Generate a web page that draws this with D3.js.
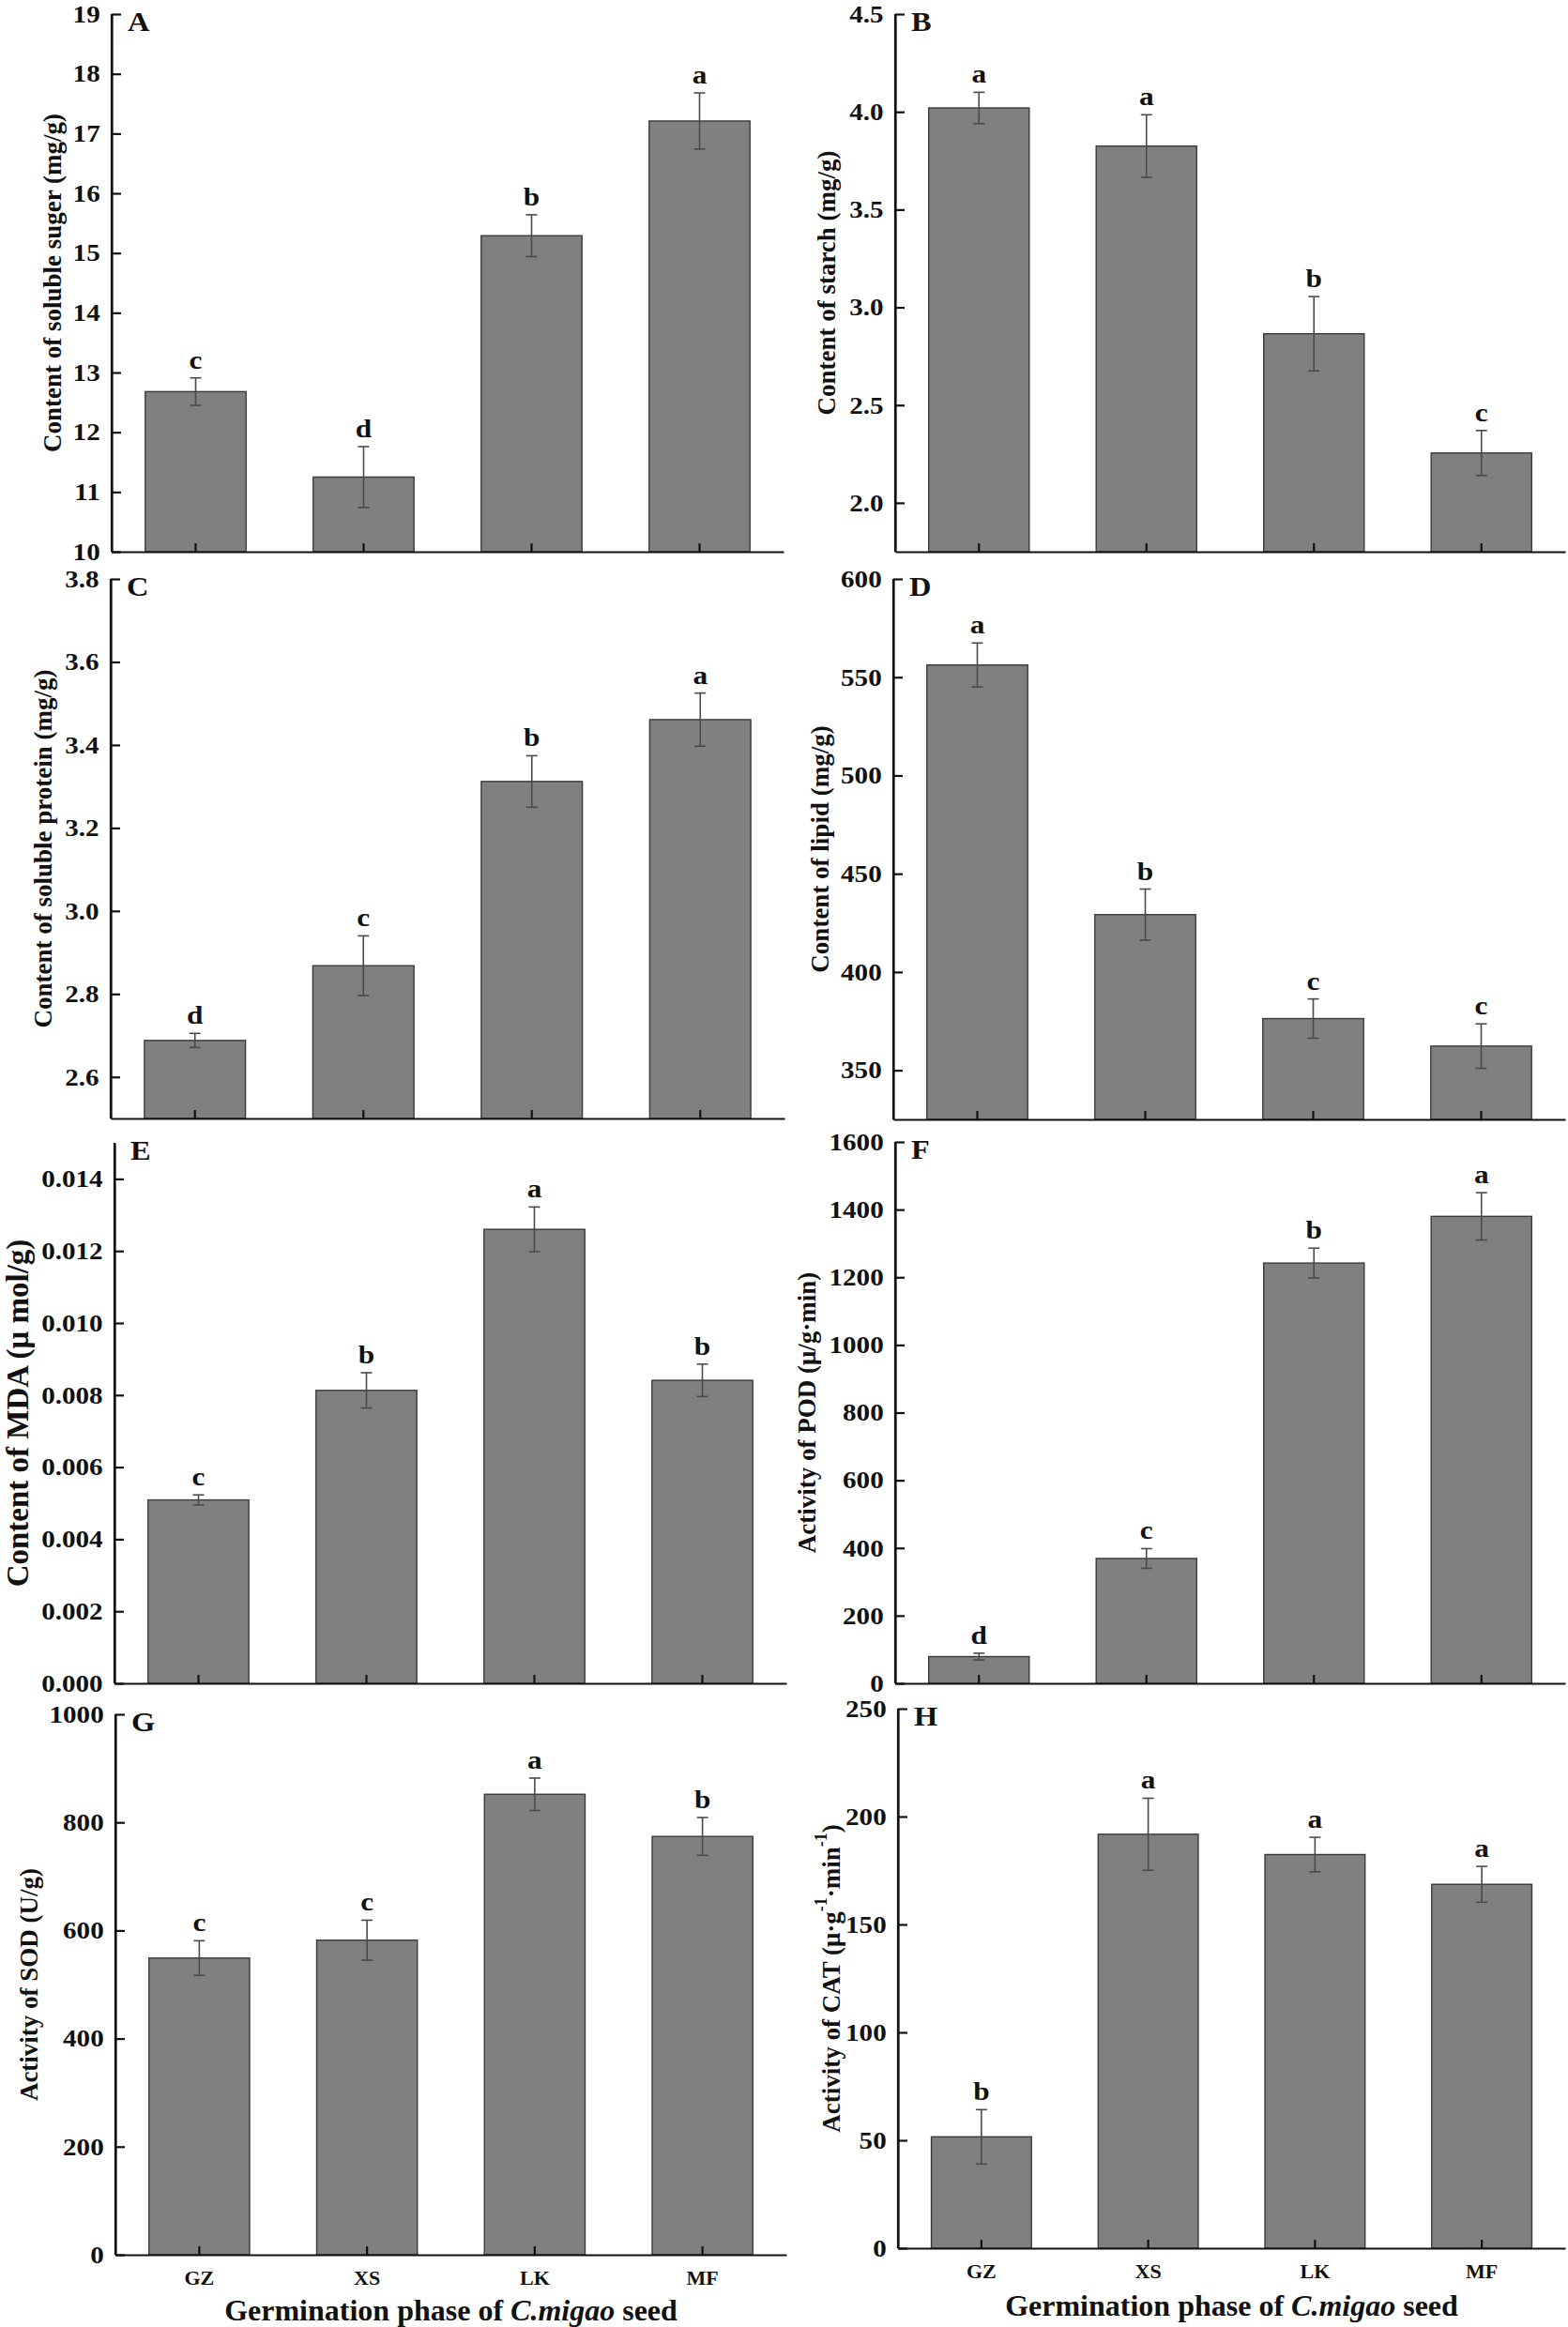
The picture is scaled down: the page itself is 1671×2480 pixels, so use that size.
<!DOCTYPE html>
<html><head><meta charset="utf-8">
<script src="https://cdn.jsdelivr.net/npm/d3@7"></script>
<style>
body{margin:0;background:#fff}
svg{display:block}
text{font-family:"Liberation Serif","Times New Roman",serif;font-weight:bold;fill:#111}
</style>
</head><body>
<svg id="chart" width="1671" height="2480"></svg>
<script>
// ---------- data ----------
const categories = ["GZ", "XS", "LK", "MF"];

const sugarMean = [12.68, 11.25, 15.29, 17.21];
const sugarErr  = [0.23, 0.51, 0.35, 0.47];
const sugarSig  = ["c", "d", "b", "a"];
const sugarTicks = [10, 11, 12, 13, 14, 15, 16, 17, 18, 19];

const starchMean = [4.02, 3.825, 2.865, 2.255];
const starchErr  = [0.08, 0.16, 0.19, 0.115];
const starchSig  = ["a", "a", "b", "c"];
const starchTicks = [2.0, 2.5, 3.0, 3.5, 4.0, 4.5];

const proteinMean = [2.688, 2.868, 3.312, 3.461];
const proteinErr  = [0.017, 0.072, 0.062, 0.064];
const proteinSig  = ["d", "c", "b", "a"];
const proteinTicks = [2.6, 2.8, 3.0, 3.2, 3.4, 3.6, 3.8];

const lipidMean = [556.2, 429.2, 376.3, 362.3];
const lipidErr  = [11.2, 13.0, 10.0, 11.3];
const lipidSig  = ["a", "b", "c", "c"];
const lipidTicks = [350, 400, 450, 500, 550, 600];

const mdaMean = [0.00509, 0.00813, 0.0126, 0.00841];
const mdaErr  = [0.00014, 0.00049, 0.00062, 0.00045];
const mdaSig  = ["c", "b", "a", "b"];
const mdaTicks = [0, 0.002, 0.004, 0.006, 0.008, 0.010, 0.012, 0.014];

const podMean = [79, 369, 1242, 1380];
const podErr  = [10, 29, 44, 70];
const podSig  = ["d", "c", "b", "a"];
const podTicks = [0, 200, 400, 600, 800, 1000, 1200, 1400, 1600];

const sodMean = [549, 582, 852, 774];
const sodErr  = [32, 37, 30, 35];
const sodSig  = ["c", "c", "a", "b"];
const sodTicks = [0, 200, 400, 600, 800, 1000];

const catMean = [51.6, 191.8, 182.4, 168.6];
const catErr  = [12.6, 16.7, 8.0, 8.3];
const catSig  = ["b", "a", "a", "a"];
const catTicks = [0, 50, 100, 150, 200, 250];

const xTitle = ["Germination phase of ", "C.migao", " seed"];

// ---------- layout ----------
const panels = [
  {key:"A", mean:sugarMean, err:sugarErr, sig:sugarSig, domain:[10,19], ticks:sugarTicks, fmt:"d",
   ylabel:[["Content of soluble suger (mg/g)"]], L:119, R:835, T:15, B:588, lx:56, ls:27},
  {key:"B", mean:starchMean, err:starchErr, sig:starchSig, domain:[1.75,4.5], ticks:starchTicks, fmt:".1f",
   ylabel:[["Content of starch (mg/g)"]], L:954, R:1668, T:15, B:588, lx:881, ls:27},
  {key:"C", mean:proteinMean, err:proteinErr, sig:proteinSig, domain:[2.5,3.8], ticks:proteinTicks, fmt:".1f",
   ylabel:[["Content of soluble protein (mg/g)"]], L:118, R:836, T:617, B:1192, lx:46, ls:27},
  {key:"D", mean:lipidMean, err:lipidErr, sig:lipidSig, domain:[325,600], ticks:lipidTicks, fmt:"d",
   ylabel:[["Content of lipid (mg/g)"]], L:952, R:1668, T:617, B:1193, lx:874, ls:27},
  {key:"E", mean:mdaMean, err:mdaErr, sig:mdaSig, domain:[0,0.015], ticks:mdaTicks, fmt:".3f",
   ylabel:[["Content of MDA (\u03bc mol/g)"]], L:122, R:838, T:1218, B:1794, lx:19, ls:33},
  {key:"F", mean:podMean, err:podErr, sig:podSig, domain:[0,1600], ticks:podTicks, fmt:"d",
   ylabel:[["Activity of POD (\u03bc/g\u00b7min)"]], L:954, R:1668, T:1217, B:1794, lx:860, ls:27},
  {key:"G", mean:sodMean, err:sodErr, sig:sodSig, domain:[0,1000], ticks:sodTicks, fmt:"d",
   ylabel:[["Activity of SOD (U/g)"]], L:123, R:838, T:1827, B:2403, lx:31, ls:27, xlab:true, titleY:2473},
  {key:"H", mean:catMean, err:catErr, sig:catSig, domain:[0,250], ticks:catTicks, fmt:"d",
   ylabel:[["Activity of CAT (\u03bc\u00b7g"],["-1","sup"],["\u00b7min"],["-1","sup"],[")"]],
   L:957, R:1668, T:1821, B:2396, lx:886, ls:27, xlab:true, titleY:2468}
];

const SX = 1.12; // horizontal stretch of the original lettering

const svg = d3.select("#chart");
svg.append("rect").attr("width",1671).attr("height",2480).attr("fill","#fff");

panels.forEach(p => {
  const g = svg.append("g");
  const x = d3.scaleBand().domain(categories).range([p.L, p.R]).paddingInner(0.4).paddingOuter(0.2);
  const y = d3.scaleLinear().domain(p.domain).range([p.B, p.T]);
  const rows = categories.map((c, i) => ({c, m:p.mean[i], e:p.err[i], s:p.sig[i]}));

  // bars
  g.selectAll("rect.bar").data(rows).join("rect").attr("class","bar")
    .attr("x", d => x(d.c)).attr("width", x.bandwidth())
    .attr("y", d => y(d.m)).attr("height", d => p.B - y(d.m))
    .attr("fill", "#808080").attr("stroke", "#3a3a3a").attr("stroke-width", 1.4);

  // error bars
  const cx = d => x(d.c) + x.bandwidth() / 2;
  const eg = g.selectAll("g.err").data(rows).join("g").attr("class","err")
    .attr("stroke", "#4a4a4a").attr("stroke-width", 1.6).attr("fill","none");
  eg.append("line").attr("x1", cx).attr("x2", cx).attr("y1", d => y(d.m - d.e)).attr("y2", d => y(d.m + d.e));
  eg.append("line").attr("x1", d => cx(d) - 6).attr("x2", d => cx(d) + 6).attr("y1", d => y(d.m + d.e)).attr("y2", d => y(d.m + d.e));
  eg.append("line").attr("x1", d => cx(d) - 6).attr("x2", d => cx(d) + 6).attr("y1", d => y(d.m - d.e)).attr("y2", d => y(d.m - d.e));

  // significance letters
  g.selectAll("text.sig").data(rows).join("text").attr("class","sig")
    .attr("transform", d => `translate(${cx(d)},${y(d.m + d.e) - 10}) scale(${SX},1)`)
    .attr("text-anchor","middle").attr("font-size", 28).text(d => d.s);

  // y axis
  const ya = g.append("g").attr("transform", `translate(${p.L},0)`)
    .call(d3.axisLeft(y).tickValues(p.ticks).tickSizeInner(-10).tickSizeOuter(0).tickPadding(11)
      .tickFormat(d3.format(p.fmt)));
  ya.attr("font-family", null).attr("font-size", null);
  ya.selectAll("text").attr("font-size", 26).attr("fill","#111").attr("transform", `scale(${SX},1)`);
  ya.select(".domain").attr("stroke","#111").attr("stroke-width",2.2);
  ya.selectAll(".tick line").attr("stroke","#111").attr("stroke-width",2.2);
  g.append("line").attr("x1",p.L).attr("x2",p.L).attr("y1",p.T).attr("y2",p.B)
    .attr("stroke","#111").attr("stroke-width",2.2);

  // x axis
  const xa = g.append("g").attr("transform", `translate(0,${p.B})`)
    .call(d3.axisBottom(x).tickSizeInner(-9).tickSizeOuter(0).tickPadding(16)
      .tickFormat(p.xlab ? (d => d) : (() => "")));
  xa.attr("font-family", null).attr("font-size", null);
  xa.selectAll("text").attr("font-size", 22).attr("fill","#111");
  xa.select(".domain").attr("stroke","#111").attr("stroke-width",2.2);
  xa.selectAll(".tick line").attr("stroke","#111").attr("stroke-width",2.2);

  // panel letter
  g.append("text").attr("transform", `translate(${p.L + 17},${p.T + 18}) scale(${SX},1)`)
    .attr("font-size", 29).text(p.key);

  // y label
  const yl = g.append("text")
    .attr("transform", `translate(${p.lx},${(p.T + p.B) / 2}) rotate(-90)`)
    .attr("text-anchor","middle").attr("dominant-baseline","central").attr("font-size", p.ls);
  p.ylabel.forEach(([t, kind], i) => {
    const ts = yl.append("tspan").text(t);
    if (kind === "sup") ts.attr("font-size", 18).attr("dy", -11);
    else if (i > 0) ts.attr("dy", 11);
  });

  // x title
  if (p.xlab) {
    const tt = g.append("text").attr("x", (p.L + p.R) / 2).attr("y", p.titleY)
      .attr("text-anchor","middle").attr("font-size", 32);
    tt.append("tspan").text(xTitle[0]);
    tt.append("tspan").attr("font-style","italic").text(xTitle[1]);
    tt.append("tspan").text(xTitle[2]);
  }
});
</script>
</body></html>
